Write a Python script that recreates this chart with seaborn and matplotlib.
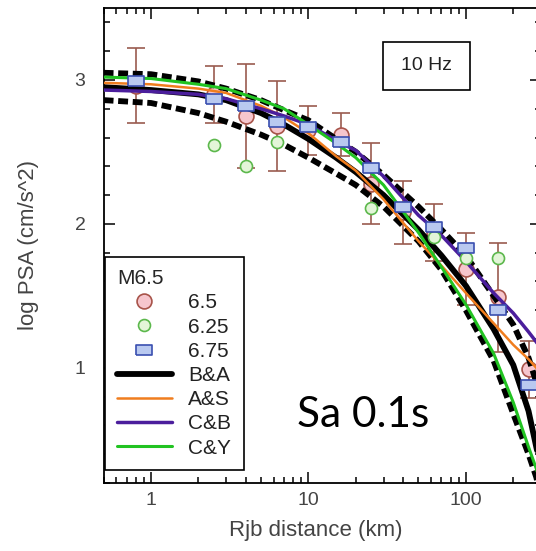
import numpy as np
import pandas as pd
import matplotlib
matplotlib.use("Agg")
import matplotlib.pyplot as plt
import seaborn as sns
from matplotlib.lines import Line2D
from matplotlib.patches import Rectangle
from matplotlib.ticker import FixedLocator, MultipleLocator, NullFormatter

# ---------------- data ----------------
obs_dist = [0.8, 2.5, 4, 6.3, 10, 16, 25, 40, 63, 100, 160, 250]
m65_psa = [2.96, 2.90, 2.75, 2.68, 2.65, 2.62, 2.28, 2.08, 1.94, 1.69, 1.49, 0.99]
m65_err = [0.26, 0.20, 0.36, 0.31, 0.17, 0.15, 0.28, 0.22, 0.20, 0.25, 0.38, 0.20]

m625_dist = [2.5, 4, 6.3, 25, 63, 100, 160]
m625_psa = [2.55, 2.40, 2.57, 2.11, 1.91, 1.76, 1.76]

m675_dist = [0.8, 2.5, 4, 6.3, 10, 16, 25, 40, 63, 100, 160, 250]
m675_psa = [2.99, 2.87, 2.82, 2.71, 2.67, 2.57, 2.39, 2.12, 1.98, 1.83, 1.40, 0.88]

curve_dist = [0.5, 1, 2, 3, 5, 7, 10, 15, 20, 30, 50, 70, 100, 150, 200, 250, 280, 300]
ba_mean = [2.95, 2.93, 2.90, 2.86, 2.77, 2.69, 2.59, 2.46, 2.36, 2.20, 1.96, 1.78, 1.57, 1.27, 1.02, 0.70, 0.45, 0.30]
ba_upper = [3.05, 3.04, 2.99, 2.94, 2.86, 2.79, 2.72, 2.59, 2.50, 2.34, 2.12, 1.96, 1.78, 1.50, 1.30, 1.07, 0.90, 0.78]
ba_lower = [2.86, 2.84, 2.77, 2.71, 2.62, 2.55, 2.46, 2.35, 2.27, 2.12, 1.88, 1.68, 1.40, 1.05, 0.68, 0.40, 0.24, 0.10]
as_curve = [2.98, 2.97, 2.94, 2.91, 2.82, 2.74, 2.63, 2.47, 2.37, 2.17, 1.88, 1.71, 1.52, 1.31, 1.16, 1.06, 1.00, 0.96]
cb_curve = [2.93, 2.92, 2.90, 2.87, 2.80, 2.75, 2.69, 2.58, 2.51, 2.33, 2.06, 1.92, 1.74, 1.52, 1.38, 1.25, 1.18, 1.13]
cy_curve = [3.02, 3.01, 2.97, 2.94, 2.86, 2.80, 2.69, 2.56, 2.46, 2.27, 1.94, 1.70, 1.44, 1.10, 0.76, 0.45, 0.30, 0.18]

x_ticks = [1, 10, 100]
x_ticklabels = ["1", "10", "100"]
y_ticks = [1, 2, 3]
y_ticklabels = ["1", "2", "3"]

# ---------------- style ----------------
sns.set_style("ticks")
plt.rcParams['font.family'] = ['Liberation Sans', 'DejaVu Sans']

PINK_FACE = '#f6c6cd'
PINK_EDGE = '#a8544a'
ERR_COL = '#9a5b4f'
GRN_FACE = '#e3f5d8'
GRN_EDGE = '#5cb84c'
BLU_FACE = '#b9c9f0'
BLU_EDGE = '#3a4fb0'
ORANGE = '#f07d1e'
PURPLE = '#4b1e9c'
GREEN = '#22c322'

fig = plt.figure(figsize=(5.36, 5.51), dpi=100)
ax = fig.add_axes([103.6 / 536, 68 / 551, 437.4 / 536, 475 / 551])

# error bars (M6.5)
ax.errorbar(obs_dist, m65_psa, yerr=m65_err, fmt='none', ecolor=ERR_COL,
            elinewidth=1.2, capsize=6.5, capthick=1.2, zorder=2)

# pink circles
sns.scatterplot(x=obs_dist, y=m65_psa, ax=ax, marker='o', s=115,
                color=PINK_FACE, edgecolor=PINK_EDGE, linewidth=1.2, zorder=2.2, legend=False)

# model curves
dash = (0, (1.7, 0.8))
kw = dict(ax=ax, sort=False, solid_joinstyle='round', dash_joinstyle='round')
sns.lineplot(x=curve_dist, y=ba_upper, color='black', linewidth=4.2, linestyle=dash, zorder=3, **kw)
sns.lineplot(x=curve_dist, y=ba_lower, color='black', linewidth=4.2, linestyle=dash, zorder=3, **kw)
sns.lineplot(x=curve_dist, y=ba_mean, color='black', linewidth=4.2, zorder=3.1, **kw)
sns.lineplot(x=curve_dist, y=as_curve, color=ORANGE, linewidth=1.8, zorder=3.2, **kw)
sns.lineplot(x=curve_dist, y=cb_curve, color=PURPLE, linewidth=2.5, zorder=3.3, **kw)
sns.lineplot(x=curve_dist, y=cy_curve, color=GREEN, linewidth=2.2, zorder=3.4, **kw)

# green markers (M6.25)
sns.scatterplot(x=m625_dist, y=m625_psa, ax=ax, marker='o', s=75,
                color=GRN_FACE, edgecolor=GRN_EDGE, linewidth=1.2, zorder=3.6, legend=False)

# blue rectangles (M6.75)
rect_marker = [(-1.5, -1.0), (1.5, -1.0), (1.5, 1.0), (-1.5, 1.0), (-1.5, -1.0)]
sns.scatterplot(x=m675_dist, y=m675_psa, ax=ax, marker=rect_marker, s=120,
                color=BLU_FACE, edgecolor=BLU_EDGE, linewidth=1.2, zorder=3.7, legend=False)

# ---------------- axes ----------------
ax.set_xscale('log')
ax.set_xlim(0.5, 300)
ax.set_ylim(0.2, 3.5)
ax.xaxis.set_major_locator(FixedLocator(x_ticks))
ax.set_xticklabels(x_ticklabels)
ax.xaxis.set_minor_locator(FixedLocator([m * 10.0 ** e for e in (-1, 0, 1, 2) for m in range(2, 10)]))
ax.xaxis.set_minor_formatter(NullFormatter())
ax.yaxis.set_major_locator(FixedLocator(y_ticks))
ax.set_yticklabels(y_ticklabels)
ax.yaxis.set_minor_locator(MultipleLocator(0.2))

ax.tick_params(which='both', direction='in', top=True, right=True, color='black', width=1.1)
ax.tick_params(which='major', length=8, labelsize=14, labelcolor='#444444')
ax.tick_params(which='minor', length=4.5)
ax.tick_params(axis='y', which='major', pad=13)
ax.tick_params(axis='x', which='major', pad=6.5)
for sp in ax.spines.values():
    sp.set_visible(True)
    sp.set_linewidth(1.3)
    sp.set_color('black')

ax.set_xlabel('Rjb distance (km)', fontsize=16, color='#444444')
ax.set_ylabel('log PSA (cm/s^2)', fontsize=16, color='#444444')
ax.xaxis.set_label_coords(0.486, -0.078)
ax.yaxis.set_label_coords(-0.148, 0.5)

# ---------------- annotations ----------------
ax.add_patch(Rectangle((0.639, 0.827), 0.199, 0.101, transform=ax.transAxes,
                       fill=False, edgecolor='black', linewidth=1.2, zorder=5))
ax.text(0.739, 0.878, '10 Hz', transform=ax.transAxes, ha='center', va='center',
        fontsize=14, color='#222222', zorder=5)
ax.text(0.594, 0.143, 'Sa 0.1s', transform=ax.transAxes, ha='center', va='center',
        fontsize=30.5, color='black', family=['Lato', 'DejaVu Sans'], zorder=6)

# ---------------- legend ----------------
handles = [
    Line2D([], [], ls='none', marker='o', ms=10.7, mfc=PINK_FACE, mec=PINK_EDGE, mew=1.2),
    Line2D([], [], ls='none', marker='o', ms=8.6, mfc=GRN_FACE, mec=GRN_EDGE, mew=1.2),
    Line2D([], [], ls='none', marker=rect_marker, ms=11, mfc=BLU_FACE, mec=BLU_EDGE, mew=1.2),
    Line2D([], [], color='black', lw=4.2),
    Line2D([], [], color=ORANGE, lw=1.8),
    Line2D([], [], color=PURPLE, lw=2.5),
    Line2D([], [], color=GREEN, lw=2.2),
]
labels = ['6.5', '6.25', '6.75', 'B&A', 'A&S', 'C&B', 'C&Y']
leg = ax.legend(handles, labels, title='M6.5', loc='lower left',
                bbox_to_anchor=(0.003, 0.027), borderaxespad=0, fontsize=15,
                title_fontsize=15, frameon=True, fancybox=False, edgecolor='black',
                framealpha=1, handlelength=2.6, handletextpad=0.8, labelspacing=0.25,
                borderpad=0.6, alignment='left')
leg.get_frame().set_linewidth(1.2)
leg.set_zorder(7)
for t in leg.get_texts():
    t.set_color('#222222')

fig.savefig('out.png', dpi=100)
